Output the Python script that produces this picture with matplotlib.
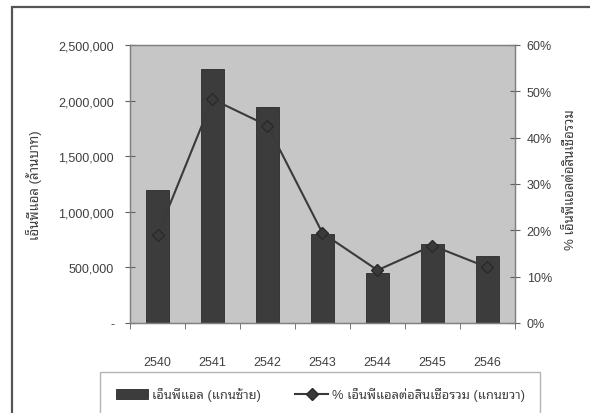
import numpy as np
import matplotlib
matplotlib.use("Agg")
from matplotlib import pyplot as plt
from matplotlib.patches import Rectangle
from matplotlib.ticker import FuncFormatter, FixedLocator

plt.rcParams['font.family'] = ['Liberation Sans', 'Noto Sans Thai Looped']

years = ['2540', '2541', '2542', '2543', '2544', '2545', '2546']
npl = [1200000, 2280000, 1945000, 800000, 450000, 710000, 600000]
npl_ratio = [0.190, 0.483, 0.426, 0.194, 0.114, 0.167, 0.120]

bar_label = 'เอ็นพีแอล (แกนซ้าย)'
line_label = '% เอ็นพีแอลต่อสินเชื่อรวม (แกนขวา)'
left_title = 'เอ็นพีแอล (ล้านบาท)'
right_title = '% เอ็นพีแอลต่อสินเชื่อรวม'

txt = '#404040'
W, H = 590, 414
fig = plt.figure(figsize=(W / 100, H / 100), dpi=100)

# outer chart frame
fig.patches.append(Rectangle((12 / W, -0.05), 1.1, 1 - 8 / H + 0.05, transform=fig.transFigure,
                             fill=False, edgecolor='#555555', linewidth=1.6))

ax = fig.add_axes([130 / W, 1 - 324 / H, 385 / W, 278 / H])
x = np.arange(len(years))
bars = ax.bar(x, npl, width=0.43, color='#3c3c3c', edgecolor='#2a2a2a', linewidth=0.6,
              label=bar_label, zorder=2)
ax.set_facecolor('#c6c6c6')
ax.set_xlim(-0.5, len(years) - 0.5)
ax.set_ylim(0, 2500000)
ax.set_yticks(np.arange(0, 2500001, 500000))
ax.yaxis.set_major_formatter(FuncFormatter(lambda v, p: '-' if v == 0 else f'{int(v):,}'))
ax.set_xticks(x)
ax.set_xticklabels(years)
ax.xaxis.set_minor_locator(FixedLocator(np.arange(-0.5, len(years), 1.0)))
ax.tick_params(axis='x', which='major', length=0, pad=24, labelsize=9, labelcolor=txt)
ax.tick_params(axis='x', which='minor', length=4, direction='out', color='#606060')
ax.tick_params(axis='y', direction='inout', length=7, pad=8, labelsize=9,
               labelcolor=txt, color='#606060')
for s in ax.spines.values():
    s.set_color('#808080')
    s.set_linewidth(1.0)
ax.set_ylabel(left_title, fontsize=9.5, color=txt)
ax.yaxis.set_label_coords((42 - 130) / 385, 0.5)

ax2 = ax.twinx()
line, = ax2.plot(x, npl_ratio, color='#3a3a3a', linewidth=1.5, marker='D', markersize=6,
                 markerfacecolor='#3a3a3a', markeredgecolor='#2a2a2a', label=line_label, zorder=3)
ax2.set_ylim(0, 0.6)
ax2.set_yticks(np.arange(0, 0.61, 0.1))
ax2.yaxis.set_major_formatter(FuncFormatter(lambda v, p: f'{v * 100:.0f}%'))
ax2.tick_params(axis='y', direction='inout', length=7, pad=5, labelsize=9,
                labelcolor=txt, color='#606060')
for s in ax2.spines.values():
    s.set_color('#808080')
ax2.set_ylabel(right_title, fontsize=9.5, color=txt, rotation=90)
ax2.yaxis.set_label_coords(1 + (564 - 515) / 385, 0.52)

leg = fig.legend([bars, line], [bar_label, line_label], loc='upper left',
                 bbox_to_anchor=(100 / W, 1 - 373 / H), borderaxespad=0, ncol=2, frameon=True,
                 fontsize=9.3, labelcolor=txt, handlelength=2.55, handletextpad=0.25,
                 columnspacing=2.7, borderpad=1.2, fancybox=False)
leg.get_frame().set_edgecolor('#a0a0a0')
leg.get_frame().set_linewidth(1.0)

fig.savefig('out.png', dpi=100)
